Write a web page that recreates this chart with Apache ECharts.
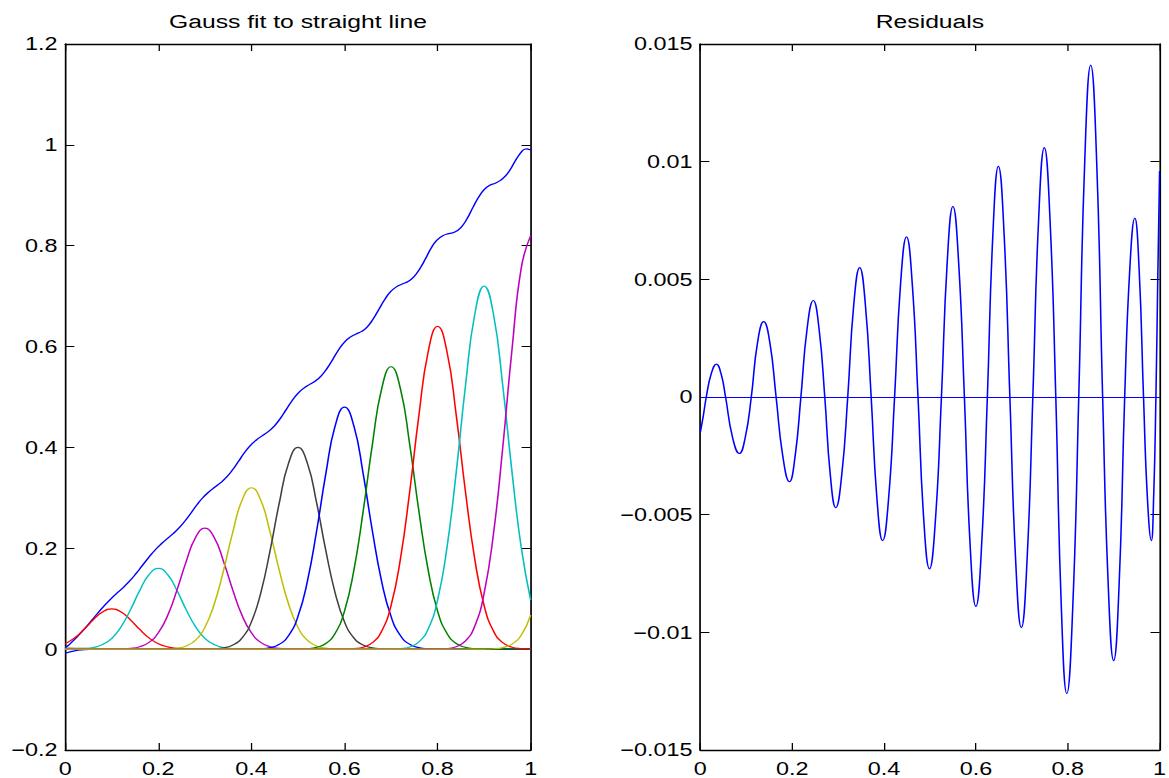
<!DOCTYPE html>
<html>
<head>
<meta charset="utf-8">
<script src="https://cdn.jsdelivr.net/npm/echarts@6/dist/echarts.min.js"></script>
<style>
  html, body { margin: 0; padding: 0; background: #fff; overflow: hidden; }
  #chart { width: 900px; height: 778px; transform: scaleX(1.3); transform-origin: 0 0; }
</style>
</head>
<body>
<div id="chart"></div>
<script>
// ---------- data ----------
const TITLES = ['Gauss fit to straight line', 'Residuals'];

// x grid shared by the individual Gaussians
const X = [0,0.02,0.04,0.06,0.08,0.1,0.12,0.14,0.16,0.18,0.2,0.22,0.24,0.26,0.28,0.3,0.32,0.34,0.36,0.38,0.4,0.42,0.44,0.46,0.48,0.5,0.52,0.54,0.56,0.58,0.6,0.62,0.64,0.66,0.68,0.7,0.72,0.74,0.76,0.78,0.8,0.82,0.84,0.86,0.88,0.9,0.92,0.94,0.96,0.98,1];

// Gaussian centred at -0.1 (blue)
const G_M01 = [-0.0081,-0.0034,-0.0012,-0.0004,-0.0001,
  0,0,0,0,0,0,0,0,0,0, 0,0,0,0,0,0,0,0,0,0, 0,0,0,0,0,0,0,0,0,0, 0,0,0,0,0,0,0,0,0,0, 0,0,0,0,0,0];
// centred at 0 (green)
const G_00 = [0.002,0.0018,0.0015,0.001,0.0006,0.0003,0.0001,
  0,0,0,0,0,0,0,0,0,0, 0,0,0,0,0,0,0,0,0,0, 0,0,0,0,0,0,0,0,0,0, 0,0,0,0,0,0,0,0,0,0, 0,0,0,0];
// centred at 0.1 (red)
const G_01 = [0.0108,0.0222,0.039,0.0581,0.0738,0.08,0.0738,0.0581,0.039,0.0222,0.0108,0.0045,0.0016,0.0005,0.0001,
  0,0,0,0,0,0,0,0,0,0, 0,0,0,0,0,0,0,0,0,0, 0,0,0,0,0,0,0,0,0,0, 0,0,0,0,0,0];
// centred at 0.2 (cyan)
const G_02 = [0,0.0002,0.001,0.0032,0.009,0.0216,0.0445,0.0779,0.1162,0.1477,0.16,0.1477,0.1162,0.0779,0.0445,0.0216,0.009,0.0032,0.001,0.0002,
  0,0,0,0,0,0,0,0,0,0, 0,0,0,0,0,0,0,0,0,0, 0,0,0,0,0,0,0,0,0,0, 0];
// centred at 0.3 (magenta)
const G_03 = [0,0,0,0,0,
  0.0001,0.0004,0.0014,0.0048,0.0134,0.0324,0.0667,0.1169,0.1742,0.2215,0.24,0.2215,0.1742,0.1169,0.0667,0.0324,0.0134,0.0048,0.0014,0.0004,0.0001,
  0,0,0,0,0,0,0,0,0,0, 0,0,0,0,0,0,0,0,0,0, 0,0,0,0,0];
// centred at 0.4 (yellow)
const G_04 = [0,0,0,0,0,0,0,0,0,0,
  0.0001,0.0005,0.0019,0.0064,0.0179,0.0432,0.089,0.1558,0.2323,0.2954,0.32,0.2954,0.2323,0.1558,0.089,0.0432,0.0179,0.0064,0.0019,0.0005,0.0001,
  0,0,0,0,0,0,0,0,0,0, 0,0,0,0,0,0,0,0,0,0];
// centred at 0.5 (black)
const G_05 = [0,0,0,0,0,0,0,0,0,0, 0,0,0,0,0,
  0.0001,0.0006,0.0024,0.008,0.0224,0.054,0.1112,0.1948,0.2904,0.3692,0.4,0.3692,0.2904,0.1948,0.1112,0.054,0.0224,0.008,0.0024,0.0006,0.0001,
  0,0,0,0,0,0,0,0,0,0, 0,0,0,0,0];
// centred at 0.6 (blue)
const G_06 = [0,0,0,0,0,0,0,0,0,0, 0,0,0,0,0,0,0,0,0,0,
  0.0001,0.0007,0.0029,0.0096,0.0269,0.0648,0.1334,0.2338,0.3485,0.443,0.48,0.443,0.3485,0.2338,0.1334,0.0648,0.0269,0.0096,0.0029,0.0007,0.0001,
  0,0,0,0,0,0,0,0,0,0];
// centred at 0.7 (green)
const G_07 = [0,0,0,0,0,0,0,0,0,0, 0,0,0,0,0,0,0,0,0,0, 0,0,0,0,0,
  0.0002,0.0008,0.0034,0.0112,0.0314,0.0756,0.1557,0.2727,0.4066,0.5169,0.56,0.5169,0.4066,0.2727,0.1557,0.0756,0.0314,0.0112,0.0034,0.0008,0.0002,
  0,0,0,0,0];
// centred at 0.8 (red)
const G_08 = [0,0,0,0,0,0,0,0,0,0, 0,0,0,0,0,0,0,0,0,0, 0,0,0,0,0,0,0,0,0,0,
  0.0002,0.001,0.0038,0.0128,0.0358,0.0864,0.1779,0.3117,0.4646,0.5907,0.64,0.5907,0.4646,0.3117,0.1779,0.0864,0.0358,0.0128,0.0038,0.001,0.0002];
// centred at 0.9 (cyan)
const G_09 = [0,0,0,0,0,0,0,0,0,0, 0,0,0,0,0,0,0,0,0,0, 0,0,0,0,0,0,0,0,0,0, 0,0,0,0,0,
  0.0002,0.0011,0.0043,0.0144,0.0403,0.0972,0.2002,0.3506,0.5227,0.6646,0.72,0.6646,0.5227,0.3506,0.2002,0.0972];
// centred at 1.0 (magenta)
const G_10 = [0,0,0,0,0,0,0,0,0,0, 0,0,0,0,0,0,0,0,0,0, 0,0,0,0,0,0,0,0,0,0, 0,0,0,0,0,0,0,0,0,0,
  0.0002,0.0012,0.0049,0.0164,0.0459,0.1107,0.228,0.3993,0.5953,0.7569,0.82];
// centred at 1.1 (yellow)
const G_11 = [0,0,0,0,0,0,0,0,0,0, 0,0,0,0,0,0,0,0,0,0, 0,0,0,0,0,0,0,0,0,0, 0,0,0,0,0,0,0,0,0,0, 0,0,0,0,0,
  0.0002,0.0008,0.003,0.01,0.028,0.0675];

// residual curve (right panel) and the summed fit (left panel) at the same x positions
const RES_X = [0,0.0065,0.013,0.024,0.035,0.045,0.055,0.07,0.085,0.098,
  0.111,0.1245,0.138,0.1515,0.165,0.1795,0.194,0.2065,0.219,0.2325,
  0.246,0.2585,0.271,0.283,0.295,0.308,0.321,0.334,0.347,0.3595,
  0.372,0.3845,0.397,0.41,0.423,0.436,0.449,0.4615,0.474,0.4865,
  0.499,0.512,0.525,0.5375,0.55,0.5625,0.575,0.5875,0.6,0.6125,
  0.625,0.637,0.649,0.6615,0.674,0.6865,0.699,0.7115,0.724,0.7365,
  0.749,0.7615,0.774,0.786,0.798,0.811,0.824,0.837,0.85,0.863,
  0.876,0.888,0.9,0.912,0.924,0.935,0.946,0.9555,0.965,0.9735,
  0.982,0.987,0.992,0.996,1];
const RES_Y = [-0.0015,-0.0008,0,0.001,0.0014,0.001,0,-0.0017,-0.0024,-0.0017,
  0,0.0023,0.0032,0.0023,0,-0.0025,-0.0036,-0.0025,0,0.0029,
  0.0041,0.0029,0,-0.0033,-0.0047,-0.0033,0,0.0039,0.0055,0.0039,
  0,-0.0043,-0.0061,-0.0043,0,0.0048,0.0068,0.0048,0,-0.0052,
  -0.0073,-0.0052,0,0.0057,0.0081,0.0057,0,-0.0063,-0.0089,-0.0063,
  0,0.0069,0.0098,0.0069,0,-0.0069,-0.0098,-0.0069,0,0.0075,
  0.0106,0.0075,0,-0.0089,-0.0126,-0.0089,0,0.01,0.0141,0.01,
  0,-0.0079,-0.0112,-0.0079,0,0.0054,0.0076,0.0054,0,-0.0043,
  -0.0061,-0.0043,0,0.005,0.0096];
const SUM_Y = [0.004,0.0073,0.013,0.023,0.0336,0.044,0.055,0.0717,0.0874,0.0997,
  0.111,0.1222,0.1348,0.1492,0.165,0.182,0.1976,0.209,0.219,0.2296,
  0.2419,0.2556,0.271,0.2863,0.2997,0.3113,0.321,0.3301,0.3415,0.3556,
  0.372,0.3888,0.4031,0.4143,0.423,0.4312,0.4422,0.4567,0.474,0.4917,
  0.5063,0.5172,0.525,0.5318,0.5419,0.5568,0.575,0.5938,0.6089,0.6188,
  0.625,0.6301,0.6392,0.6546,0.674,0.6934,0.7088,0.7184,0.724,0.729,
  0.7384,0.754,0.774,0.7949,0.8106,0.8199,0.824,0.827,0.8359,0.853,
  0.876,0.8959,0.9112,0.9199,0.924,0.9296,0.9384,0.9501,0.965,0.9778,
  0.9881,0.9913,0.992,0.991,0.9904];

const GAUSS = [G_M01,G_00,G_01,G_02,G_03,G_04,G_05,G_06,G_07,G_08,G_09,G_10,G_11];
const GAUSS_COLORS = ['#0000ff','#008000','#ff0000','#00bfbf','#bf00bf','#bfbf00','#404040',
                      '#0000ff','#008000','#ff0000','#00bfbf','#bf00bf','#bfbf00'];

// ---------- chart ----------
const FONT = "'Liberation Sans', Arial, Helvetica, sans-serif";
function fmt(v) {
  const s = String(+(+v).toFixed(4));
  return s.replace('-', '\u2212');
}
function pairs(xs, ys) { return xs.map((x, i) => [x, ys[i]]); }

const axisLine = { show: true, onZero: false, lineStyle: { color: '#000', width: 1.3 } };
const tick = { show: true, inside: true, length: 7, lineStyle: { color: '#000', width: 1 } };
const label = { show: true, color: '#000', fontSize: 18, fontFamily: FONT, formatter: fmt,
                showMinLabel: true, showMaxLabel: true };

function xAxes(grid, title) {
  return [
    { type: 'value', gridIndex: grid, min: 0, max: 1, interval: 0.2, position: 'bottom',
      axisLine, axisTick: tick, splitLine: { show: false },
      axisLabel: Object.assign({}, label, { margin: 10 }) },
    { type: 'value', gridIndex: grid, min: 0, max: 1, interval: 0.2, position: 'top',
      axisLine, axisTick: tick, splitLine: { show: false }, axisLabel: { show: false },
      name: title, nameLocation: 'middle', nameGap: 13,
      nameTextStyle: { color: '#000', fontSize: 19, fontFamily: FONT } }
  ];
}
function yAxes(grid, min, max, interval) {
  return [
    { type: 'value', gridIndex: grid, min, max, interval, position: 'left',
      axisLine, axisTick: tick, splitLine: { show: false },
      axisLabel: Object.assign({}, label, { margin: 6 }) },
    { type: 'value', gridIndex: grid, min, max, interval, position: 'right',
      axisLine, axisTick: tick, splitLine: { show: false }, axisLabel: { show: false } }
  ];
}

const series = [];
series.push({
  type: 'line', xAxisIndex: 0, yAxisIndex: 0, data: pairs(RES_X, SUM_Y),
  showSymbol: false, smooth: 0.5, lineStyle: { color: '#0000ff', width: 1.2 }, silent: true
});
GAUSS.forEach((g, i) => {
  series.push({
    type: 'line', xAxisIndex: 0, yAxisIndex: 0, data: pairs(X, g),
    showSymbol: false, smooth: 0.5, lineStyle: { color: GAUSS_COLORS[i], width: 1.2 }, silent: true
  });
});
series.push({
  type: 'line', xAxisIndex: 2, yAxisIndex: 2, data: pairs(RES_X, RES_Y),
  showSymbol: false, smooth: 0.5, lineStyle: { color: '#0000ff', width: 1.2 }, silent: true,
  markLine: { silent: true, symbol: 'none', label: { show: false },
              lineStyle: { color: '#0000ff', width: 1, type: 'solid' },
              data: [{ yAxis: 0 }] }
});

const chart = echarts.init(document.getElementById('chart'), null, { renderer: 'svg' });
chart.setOption({
  animation: false,
  backgroundColor: '#fff',
  grid: [
    { left: 50.2, top: 44, width: 358, height: 707 },
    { left: 538.7, top: 44, width: 358.6, height: 707 }
  ],
  xAxis: xAxes(0, TITLES[0]).concat(xAxes(1, TITLES[1])),
  yAxis: yAxes(0, -0.2, 1.2, 0.2).concat(yAxes(1, -0.015, 0.015, 0.005)),
  series
});
</script>
</body>
</html>
